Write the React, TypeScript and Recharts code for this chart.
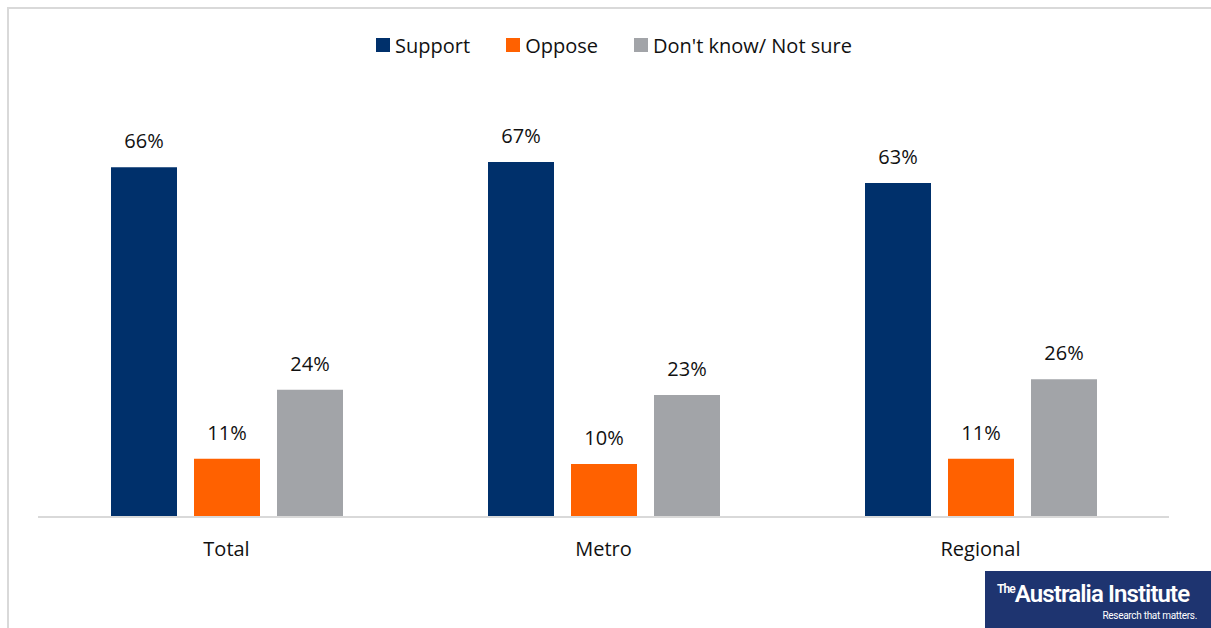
import { Bar, BarChart, LabelList, Legend, XAxis, YAxis } from "recharts";

const groups = ["Total", "Metro", "Regional"];
const support = [66, 67, 63];
const oppose = [11, 10, 11];
const unsure = [24, 23, 26];

const seriesNames = ["Support", "Oppose", "Don't know/ Not sure"];
const seriesColors = ["#00306B", "#FF6100", "#A2A4A8"];

const data = groups.map((g, i) => ({
  group: g,
  support: support[i],
  oppose: oppose[i],
  unsure: unsure[i],
}));

const font = "'Open Sans', 'Noto Sans', sans-serif";

const pct = (v: any) => `${v}%`;

function LegendRow() {
  return (
    <div
      style={{
        height: 30,
        display: "flex",
        justifyContent: "center",
        alignItems: "center",
        paddingLeft: 17,
        fontFamily: font,
        fontSize: 20,
        color: "#111",
      }}
    >
      {seriesNames.map((n, i) => (
        <span key={n} style={{ display: "flex", alignItems: "center", marginRight: i < 2 ? 36 : 0 }}>
          <span
            style={{ width: 14, height: 14, background: seriesColors[i], marginRight: 5, display: "inline-block" }}
          />
          {n}
        </span>
      ))}
    </div>
  );
}

export default function App() {
  return (
    <div
      style={{
        position: "absolute",
        left: 0,
        top: 0,
        width: 1211,
        height: 628,
        background: "#fff",
        overflow: "hidden",
      }}
    >
      <div
        style={{
          position: "absolute",
          left: 7,
          top: 7,
          width: 1300,
          height: 700,
          borderLeft: "2px solid #D9D9D9",
          borderTop: "2px solid #D9D9D9",
        }}
      />
      <div style={{ position: "absolute", left: 0, top: 0 }}>
        <BarChart
          width={1211}
          height={628}
          data={data}
          margin={{ top: 63, right: 42, bottom: 86, left: 38 }}
          barSize={66}
          barGap={17}
        >
          <Legend
            verticalAlign="top"
            wrapperStyle={{ top: 30, left: 0, width: 1211 }}
            content={() => <LegendRow />}
          />
          <XAxis
            dataKey="group"
            axisLine={{ stroke: "#D9D9D9", strokeWidth: 2 }}
            tickLine={false}
            tickSize={0}
            tickMargin={25}
            height={25}
            tick={{ fill: "#111", fontSize: 20, fontFamily: font }}
          />
          <YAxis hide domain={[0, 80]} />
          {(["support", "oppose", "unsure"] as const).map((k, i) => (
            <Bar key={k} dataKey={k} name={seriesNames[i]} fill={seriesColors[i]} isAnimationActive={false}>
              <LabelList
                dataKey={k}
                position="top"
                offset={19}
                formatter={pct}
                style={{ fill: "#111", fontSize: 20, fontFamily: font }}
              />
            </Bar>
          ))}
        </BarChart>
      </div>
      <div
        style={{
          position: "absolute",
          left: 985,
          top: 571,
          width: 226,
          height: 57,
          background: "#1E3470",
          color: "#fff",
        }}
      >
        <div
          style={{
            position: "absolute",
            left: 12,
            top: 9,
            fontFamily: "'Liberation Sans Narrow', 'Roboto', sans-serif",
            fontSize: 24,
            fontWeight: 600,
            letterSpacing: -0.9,
            whiteSpace: "nowrap",
          }}
        >
          <span style={{ fontSize: 12, verticalAlign: 9 }}>The</span>Australia Institute
        </div>
        <div
          style={{
            position: "absolute",
            right: 14,
            top: 39,
            fontFamily: "'Liberation Sans Narrow', 'Roboto', sans-serif",
            fontSize: 10,
            letterSpacing: -0.3,
            whiteSpace: "nowrap",
          }}
        >
          Research that matters.
        </div>
      </div>
    </div>
  );
}
